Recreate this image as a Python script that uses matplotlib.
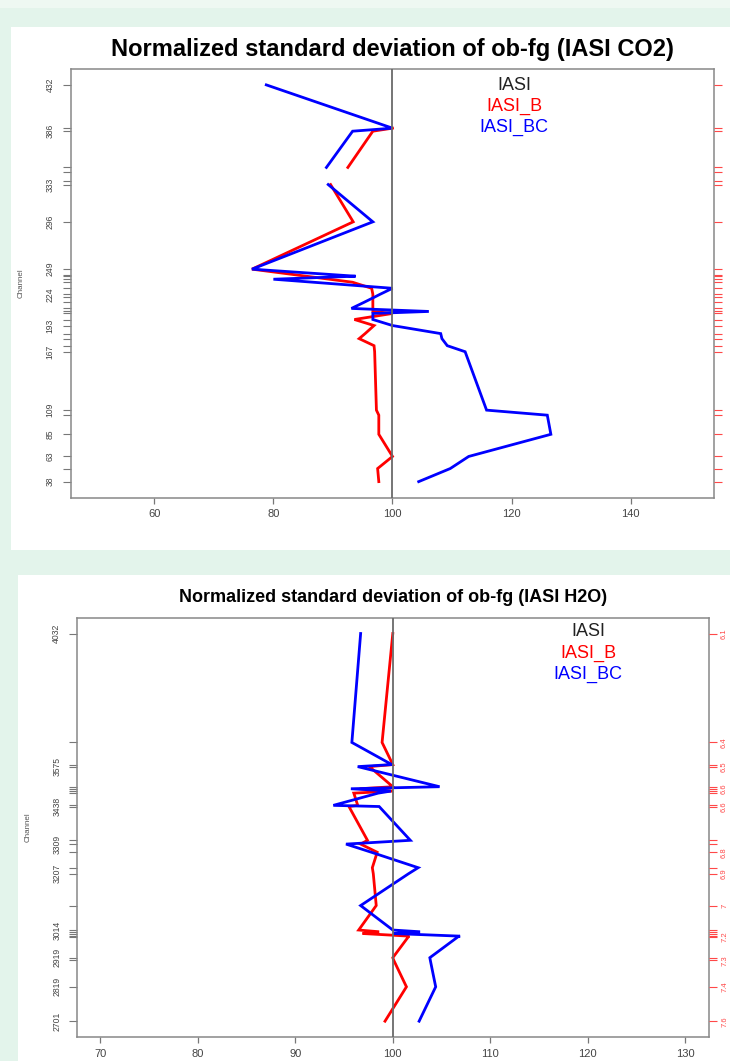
import numpy as np
import matplotlib
matplotlib.use("Agg")
import matplotlib.pyplot as plt
from matplotlib.patches import Rectangle

plt.rcParams['font.family'] = ['Liberation Sans', 'DejaVu Sans']

# --- IASI CO2 channels (top panel) ---
co2_ch = [38, 51, 63, 85, 104, 109, 167, 173, 180, 185, 193, 199, 205, 207, 210,
          216, 221, 224, 230, 236, 239, 242, 243, 249, 296, 333, 337, 345, 350,
          386, 389, 432]
co2_b = [97.7, 97.5, 100.0, 97.7, 97.7, 97.3, 97.0, 96.9, 94.4, 95.4, 96.9, 93.6, 100.0, 96.7, 96.7,
         96.7, 96.7, 96.7, 96.5, 93.3, 89.4, 85.5, 84.2, 76.4, 93.4, 89.6, np.nan, np.nan, 92.5,
         96.7, 100.0, np.nan]
co2_bc = [104.4, 109.7, 112.8, 126.6, 126.0, 115.8, 112.2, 109.2, 108.3, 108.1, 100.0, 96.7, 96.7, 106.1, 93.1,
          95.2, 96.9, 97.9, 100.0, 86.7, 80.0, 93.8, 91.3, 76.4, 96.7, 89.2, np.nan, np.nan, 88.9,
          93.3, 100.0, 78.8]
co2_labelled = [38, 63, 85, 109, 167, 193, 224, 249, 296, 333, 386, 432]

# --- IASI H2O channels (bottom panel) ---
h2o_ch = [2701, 2819, 2910, 2919, 2991, 2993, 3002, 3008, 3014, 3098, 3207, 3228, 3281,
          3309, 3322, 3438, 3442, 3484, 3491, 3499, 3506, 3575, 3582, 3658, 4032]
h2o_b = [99.2, 101.4, 100.1, 100.0, 101.6, 101.7, 96.9, 98.6, 96.5, 98.3, 98.0, 97.9, 98.4,
         96.7, 97.4, 95.5, 96.4, 96.0, 100.0, 96.6, 100.0, 97.6, 100.0, 98.9, 100.0]
h2o_bc = [102.7, 104.4, 103.85, 103.8, 106.7, 106.9, 100.0, 102.8, 100.0, 96.7, 101.6, 102.6, 97.8,
          95.2, 101.8, 98.6, 93.9, 98.5, 99.8, 95.7, 104.8, 96.4, 99.9, 95.8, 96.7]
h2o_labelled = [2701, 2819, 2919, 3014, 3207, 3309, 3438, 3575, 4032]
h2o_wavelength = ['7.6', '7.4', '7.3', '7.3', '7.2', '7.2', '7.2', '7.2', '7.2', '7', '6.9', '6.9', '6.8',
                  '6.8', '6.8', '6.6', '6.6', '6.6', '6.6', '6.6', '6.6', '6.5', '6.5', '6.4', '6.1']

legend_names = ['IASI', 'IASI_B', 'IASI_BC']
legend_colors = ['#222222', 'red', 'blue']

W, H = 730, 1061
fig = plt.figure(figsize=(W / 100, H / 100), dpi=100)
fig.patch.set_facecolor('#E3F4EB')


def rect(x0, y0, x1, y1, color):
    fig.add_artist(Rectangle((x0 / W, 1 - y1 / H), (x1 - x0) / W, (y1 - y0) / H,
                             transform=fig.transFigure, facecolor=color,
                             edgecolor='none', zorder=-5))


rect(0, 0, W, 8, '#EEF8F2')
rect(11, 27, W, 550, 'white')
rect(18, 575, W, H, 'white')


def thin(ch, gap):
    # keep a label only if far enough from the last kept one (like R's axis)
    keep, last = [], None
    for c in ch:
        if last is None or c - last >= gap:
            keep.append(c)
            last = c
    return keep


def panel(box, ch, b, bc, xlim, xticks, labelled, right_labels, title, title_y, title_size,
          legend_xy, ylab_x, lpad):
    x0, y0, x1, y1 = box
    ax = fig.add_axes([x0 / W, 1 - y1 / H, (x1 - x0) / W, (y1 - y0) / H])
    ax.set_facecolor('none')
    rng = max(ch) - min(ch)
    ax.set_ylim(min(ch) - 0.04 * rng, max(ch) + 0.04 * rng)
    ax.set_xlim(*xlim)

    ax.plot(b, ch, color='red', lw=2.0, solid_joinstyle='miter', zorder=2)
    ax.plot(bc, ch, color='blue', lw=2.0, solid_joinstyle='miter', zorder=2.5)
    ax.axvline(100, color='#6A6A6A', lw=1.3, zorder=3)

    for s in ax.spines.values():
        s.set_color('#888888')
        s.set_linewidth(1.1)

    ax.set_xticks(xticks)
    ax.set_xticklabels([str(t) for t in xticks], fontsize=8, color='#444444')
    ax.tick_params(axis='x', length=4.5, width=0.9, color='#777777', pad=4)

    ax.set_yticks(ch)
    ax.set_yticklabels([str(c) if c in labelled else '' for c in ch],
                       rotation=90, va='center', fontsize=6.2, color='#444444')
    ax.tick_params(axis='y', length=5.5, width=0.8, color='#777777', pad=lpad)

    ax2 = ax.twinx()
    ax2.set_ylim(ax.get_ylim())
    ax2.set_yticks(ch)
    if right_labels is not None:
        shown = thin(ch, 55)
        ax2.set_yticklabels([lab if c in shown else '' for c, lab in zip(ch, right_labels)],
                            rotation=90, va='center', fontsize=5.5)
    else:
        ax2.set_yticklabels([])
    ax2.tick_params(axis='y', length=6, width=0.8, colors='#FF4848', pad=3)
    for s in ax2.spines.values():
        s.set_visible(False)

    fig.text((x0 + x1) / 2 / W, 1 - title_y / H, title, ha='center', va='center',
             fontsize=title_size, weight='bold')
    fig.text(ylab_x / W, 1 - (y0 + y1) / 2 / H, 'Channel', rotation=90,
             ha='center', va='center', fontsize=5.8, color='#555555')

    lx, ly = legend_xy
    for i, (name, col) in enumerate(zip(legend_names, legend_colors)):
        fig.text(lx / W, 1 - (ly + 21 * i) / H, name, ha='center', va='center',
                 fontsize=13, color=col)
    return ax


panel((71, 69, 714, 497.5), co2_ch, co2_b, co2_bc, (46, 154), [60, 80, 100, 120, 140],
      co2_labelled, None, 'Normalized standard deviation of ob-fg (IASI CO2)', 49, 17,
      (514, 85), 21, 6.5)

panel((77, 618, 708.6, 1036.7), h2o_ch, h2o_b, h2o_bc, (67.6, 132.4),
      [70, 80, 90, 100, 110, 120, 130], h2o_labelled, h2o_wavelength,
      'Normalized standard deviation of ob-fg (IASI H2O)', 598, 13,
      (588, 632), 28, 5.8)

fig.savefig('out.png', dpi=100, facecolor=fig.get_facecolor())
